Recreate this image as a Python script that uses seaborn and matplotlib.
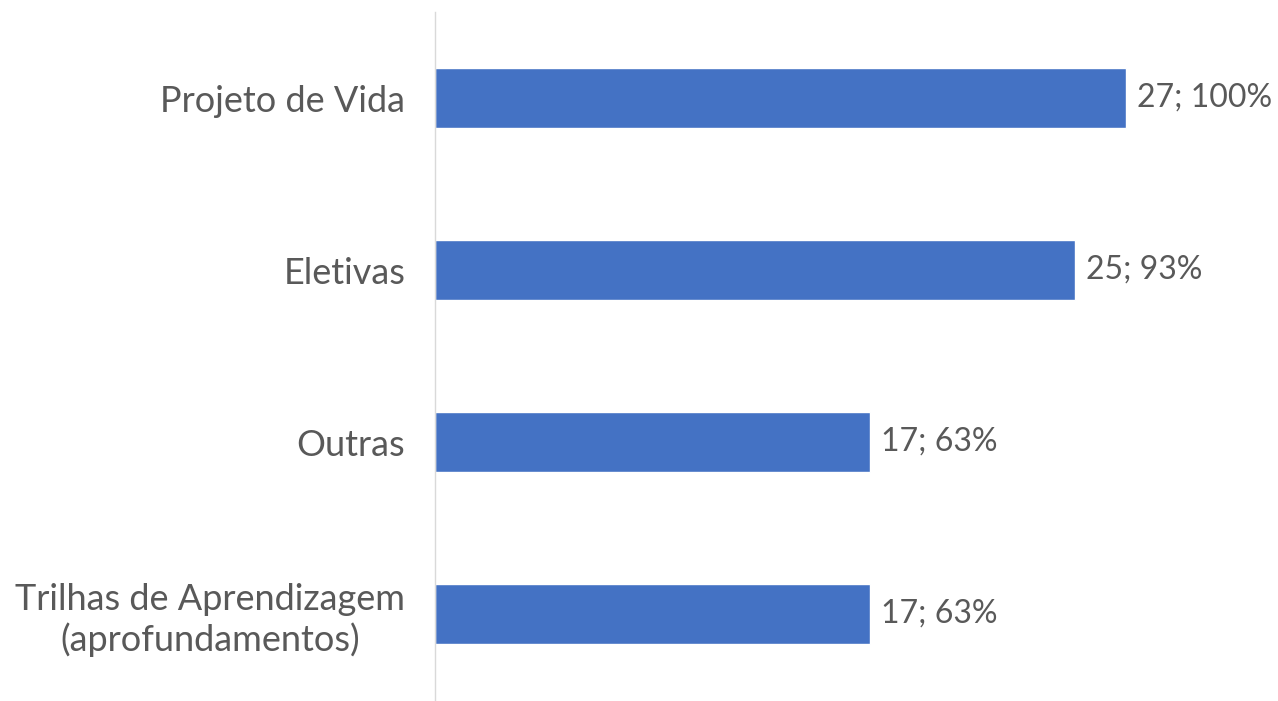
import matplotlib
matplotlib.use("Agg")
import matplotlib.pyplot as plt
import seaborn as sns
import pandas as pd

categories = ["Projeto de Vida", "Eletivas", "Outras", "Trilhas de Aprendizagem\n(aprofundamentos)"]
counts = [27, 25, 17, 17]
percents = [100, 93, 63, 63]

df = pd.DataFrame({"cat": categories, "n": counts})

sns.set_theme(style="white")
plt.rcParams['font.family'] = ['Lato', 'DejaVu Sans']

TEXT = "#595959"
fig = plt.figure(figsize=(12.78, 7.01), dpi=100)
ax = fig.add_axes([435/1278, 1/701, (1268-435)/1278, 688/701])

sns.barplot(data=df, x="n", y="cat", color="#4472C4", width=0.35, ax=ax, saturation=1, orient="h")

ax.set_xlim(0, 27 * (1268-435) / (1126-435))
ax.set_ylim(3.5, -0.5)
ax.set_xlabel("")
ax.set_ylabel("")
ax.set_xticks([])
for s in ["top", "right", "bottom"]:
    ax.spines[s].set_visible(False)
ax.spines["left"].set_color("#D9D9D9")
ax.spines["left"].set_linewidth(1)
ax.tick_params(axis="y", length=0, pad=21.5, labelsize=26, labelcolor=TEXT)
for lbl in ax.get_yticklabels():
    lbl.set_multialignment("center")

for i, (c, p) in enumerate(zip(counts, percents)):
    ax.annotate(f"{c}; {p}%", xy=(c, i), xytext=(8, 0), textcoords="offset points",
                va="center", ha="left", fontsize=23, color=TEXT)

fig.savefig("out.png", dpi=100)
